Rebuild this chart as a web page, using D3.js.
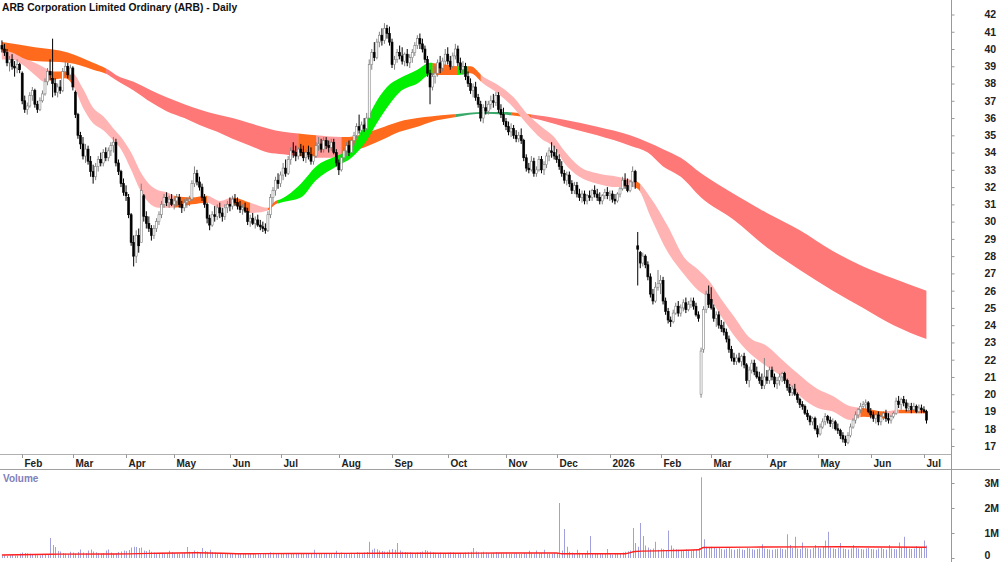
<!DOCTYPE html>
<html>
<head>
<meta charset="utf-8">
<script src="https://cdn.jsdelivr.net/npm/d3@7"></script>
<style>
  body { margin: 0; background: #fff; }
  svg { display: block; font-family: "Liberation Sans", Arial, sans-serif; }
</style>
</head>
<body>
<svg id="chart" width="1000" height="562"></svg>
<script>
// trading calendar (ASX), first and last session shown
const firstDay = "2025-01-21";
const lastDay = "2026-07-02";
const holidays = ["2025-01-27", "2025-04-18", "2025-04-21", "2025-04-25", "2025-06-09",
  "2025-12-25", "2025-12-26", "2026-01-01", "2026-01-26", "2026-04-03", "2026-04-06", "2026-06-08"];
const monthLabels = ["Feb", "Mar", "Apr", "May", "Jun", "Jul", "Aug", "Sep", "Oct", "Nov", "Dec",
  "2026", "Feb", "Mar", "Apr", "May", "Jun", "Jul"];

// daily candles [open, high, low, close]
const candles = [
  [40.2,40.5,39.8,40.0],[40.0,40.3,39.6,39.8],[39.8,40.0,39.0,39.2],[39.2,39.6,38.7,39.4],[39.4,39.7,38.8,39.0],
  [39.0,39.3,38.4,38.9],[38.9,39.4,38.6,39.1],[39.1,39.2,38.6,38.8],[38.6,38.7,36.8,37.0],[37.0,37.3,36.3,36.5],
  [36.5,36.9,36.2,36.7],[36.7,37.5,36.6,37.3],[37.3,37.8,37.0,37.6],[37.6,37.7,36.6,36.8],[36.8,37.0,36.3,36.5],
  [36.5,37.2,36.4,37.0],[37.0,37.6,36.9,37.4],[37.4,38.3,37.3,38.1],[38.1,38.9,37.9,38.7],[38.7,39.4,38.2,38.5],
  [38.3,40.6,37.2,38.0],[38.0,38.3,37.3,37.5],[37.5,38.0,37.2,37.8],[37.8,38.2,37.4,37.6],[37.6,38.9,37.5,38.7],
  [38.7,39.3,38.4,39.0],[39.0,39.2,38.3,38.5],[38.5,39.1,38.2,38.9],[38.9,39.0,37.6,37.8],[37.5,37.6,36.0,36.2],
  [36.2,36.3,34.8,35.0],[35.0,35.2,34.2,34.5],[34.5,34.9,33.6,33.8],[33.8,34.5,33.4,34.2],[34.2,34.4,33.3,33.5],
  [33.5,33.8,32.6,32.9],[32.9,33.3,32.2,32.6],[32.6,33.4,32.4,33.2],[33.2,33.8,32.9,33.6],[33.6,34.0,33.2,33.4],
  [33.4,34.2,33.2,34.0],[34.0,34.3,33.5,33.7],[33.7,34.3,33.5,34.1],[34.1,34.6,33.8,34.4],[34.4,34.9,34.0,34.6],
  [34.6,34.8,33.2,33.4],[33.4,33.6,32.7,32.9],[32.9,33.0,32.0,32.2],[32.2,32.5,31.5,31.7],[31.7,32.1,31.2,31.5],
  [31.4,31.6,30.2,30.4],[30.4,30.5,28.6,28.8],[28.8,29.2,27.4,28.0],[28.0,29.5,27.6,29.2],[29.2,29.6,28.2,28.6],
  [28.8,32.2,28.8,31.8],[31.5,31.6,30.0,30.3],[30.3,30.6,29.6,29.9],[29.9,30.3,29.4,29.6],[29.6,29.8,28.9,29.2],
  [29.2,29.8,29.0,29.6],[29.6,30.2,29.4,30.0],[30.0,30.6,29.8,30.4],[30.4,31.2,30.2,31.0],[31.0,31.6,30.8,31.4],
  [31.4,31.7,30.9,31.1],[31.1,31.5,30.8,31.3],[31.3,31.6,30.9,31.0],[31.0,31.4,30.7,31.2],[31.2,31.6,30.9,31.4],
  [31.4,31.6,30.8,31.0],[31.0,31.2,30.5,30.8],[30.8,31.3,30.6,31.1],[31.1,31.4,30.8,31.2],[31.2,31.5,30.9,31.3],
  [31.3,32.4,31.2,32.2],[32.2,33.2,32.0,32.8],[32.8,33.0,32.1,32.3],[32.3,32.6,31.8,32.0],[32.0,32.2,31.2,31.4],
  [31.4,31.6,30.8,31.0],[31.0,31.1,29.9,30.2],[30.2,30.4,29.5,29.8],[29.8,30.6,29.7,30.4],[30.4,30.9,30.0,30.3],
  [30.3,31.0,30.1,30.8],[30.8,31.1,30.2,30.5],[30.5,30.8,30.0,30.3],[30.3,31.0,30.1,30.8],[30.8,31.2,30.5,31.0],
  [31.0,31.4,30.6,30.9],[30.9,31.5,30.7,31.3],[31.3,31.6,30.9,31.1],[31.1,31.4,30.7,30.9],[30.9,31.2,30.5,30.7],
  [30.7,31.0,30.4,30.8],[30.8,31.1,30.5,30.6],[30.6,30.8,29.8,30.0],[30.0,30.4,29.7,30.2],[30.2,30.5,29.8,29.9],
  [29.9,30.3,29.6,30.1],[30.1,30.4,29.7,29.8],[29.8,30.1,29.5,29.7],[29.7,30.0,29.4,29.6],[29.6,29.9,29.3,29.5],
  [29.5,30.6,29.4,30.4],[30.4,31.6,30.2,31.4],[31.4,32.0,31.0,31.8],[31.8,32.6,31.5,32.4],[32.4,32.8,31.9,32.2],
  [32.2,32.9,32.0,32.7],[32.7,33.4,32.4,33.1],[33.1,33.6,32.6,32.8],[32.8,33.8,32.7,33.6],[33.6,34.3,33.3,34.1],
  [34.1,34.6,33.7,34.0],[34.0,34.4,33.5,33.8],[33.8,34.3,33.6,34.2],[34.2,34.5,33.8,34.0],[34.0,34.4,33.5,33.7],
  [33.7,34.2,33.4,34.0],[34.0,34.4,33.6,33.9],[33.9,34.3,33.3,33.5],[33.5,34.0,33.3,33.8],[33.8,34.6,33.7,34.4],
  [34.4,34.9,34.1,34.5],[34.5,34.8,34.0,34.2],[34.2,34.9,34.0,34.7],[34.7,34.9,34.2,34.4],[34.4,34.7,34.0,34.3],
  [34.3,34.8,34.1,34.6],[34.6,34.8,33.9,34.0],[34.0,34.2,33.2,33.4],[33.4,33.6,32.7,33.0],[33.0,33.9,32.9,33.7],
  [33.7,34.3,33.5,34.1],[34.1,34.6,33.8,34.4],[34.4,34.7,33.8,34.0],[34.0,34.8,33.9,34.7],[34.7,35.2,34.4,35.0],
  [35.0,35.7,34.8,35.5],[35.5,36.2,35.1,35.3],[35.3,35.8,35.0,35.6],[35.6,36.0,35.2,35.4],[35.4,36.3,35.3,36.0],
  [36.0,39.4,35.9,39.1],[39.1,40.0,38.8,39.8],[39.8,40.4,39.3,39.5],[39.5,40.6,39.4,40.4],[40.4,41.0,40.1,40.8],
  [40.8,41.2,40.2,40.5],[40.5,41.5,40.3,41.2],[41.2,41.4,40.6,40.9],[40.9,41.3,40.2,40.4],[40.4,40.6,38.9,39.1],
  [39.1,39.6,38.8,39.4],[39.4,40.0,39.2,39.8],[39.8,40.2,39.4,39.6],[39.6,40.1,39.1,39.3],[39.3,39.8,39.0,39.7],
  [39.7,40.0,39.0,39.2],[39.2,39.7,38.9,39.5],[39.5,40.0,39.2,39.8],[39.8,40.4,39.6,40.2],[40.2,40.8,40.0,40.6],
  [40.6,40.9,40.0,40.3],[40.3,40.6,39.8,40.0],[40.0,40.2,39.2,39.4],[39.4,39.6,38.4,38.6],[38.6,38.8,36.8,37.8],
  [37.8,38.6,37.6,38.4],[38.4,39.0,38.0,38.6],[38.6,39.4,38.4,39.2],[39.2,39.6,38.6,38.9],[38.9,39.5,38.7,39.3],
  [39.3,40.0,39.0,39.7],[39.7,40.1,39.1,39.3],[39.3,39.6,38.8,39.0],[39.0,39.8,38.9,39.6],[39.6,40.3,39.4,40.0],
  [40.0,40.2,39.0,39.2],[39.2,39.5,38.6,38.8],[38.8,39.3,38.5,39.0],[39.0,39.2,38.2,38.4],[38.4,38.7,37.8,38.0],
  [38.0,38.3,37.4,37.6],[37.6,38.0,37.2,37.8],[37.8,38.1,37.0,37.2],[37.2,37.4,36.6,36.8],[36.8,37.0,35.8,36.0],
  [36.0,36.8,35.7,36.6],[36.6,37.0,36.2,36.4],[36.4,37.0,36.2,36.8],[36.8,37.3,36.5,37.0],[37.0,37.4,36.6,36.9],
  [36.9,37.5,36.7,37.3],[37.3,37.5,36.3,36.5],[36.5,36.8,36.0,36.2],[36.2,36.6,35.6,35.8],[35.8,36.0,35.3,35.5],
  [35.5,35.8,35.0,35.2],[35.2,35.7,34.9,35.4],[35.4,35.6,34.8,35.0],[35.0,35.3,34.6,34.8],[34.8,35.2,34.6,35.0],
  [35.0,35.4,34.5,34.7],[34.7,34.8,33.5,33.7],[33.7,33.9,32.9,33.1],[33.1,33.4,32.8,33.0],[33.0,33.8,32.9,33.5],
  [33.5,33.7,32.6,32.8],[32.8,33.2,32.6,33.0],[33.0,33.8,32.9,33.6],[33.6,33.8,32.8,33.0],[33.0,33.5,32.7,33.3],
  [33.3,34.0,33.1,33.8],[33.8,34.3,33.5,34.1],[34.1,34.6,33.7,34.0],[34.0,34.4,33.6,33.8],[33.8,34.2,33.4,33.6],
  [33.6,33.9,33.0,33.2],[33.2,33.5,32.6,32.8],[32.8,33.0,32.2,32.4],[32.4,32.9,32.1,32.7],[32.7,32.9,32.0,32.2],
  [32.2,32.4,31.6,31.8],[31.8,32.3,31.6,32.1],[32.1,32.3,31.4,31.6],[31.6,31.9,31.2,31.4],[31.4,31.8,31.1,31.6],
  [31.6,31.8,31.0,31.2],[31.2,31.6,31.0,31.5],[31.5,31.8,31.2,31.4],[31.4,31.9,31.2,31.8],[31.8,32.1,31.4,31.6],
  [31.6,31.9,31.2,31.4],[31.4,31.7,31.0,31.2],[31.2,31.6,31.0,31.5],[31.5,31.9,31.3,31.7],[31.7,32.0,31.3,31.5],
  [31.5,31.8,31.2,31.6],[31.6,31.8,31.1,31.3],[31.3,31.6,31.0,31.2],[31.2,31.7,31.1,31.6],[31.6,32.0,31.4,31.9],
  [31.9,32.6,31.8,32.4],[32.4,32.8,31.9,32.1],[32.1,32.5,31.7,31.8],[31.8,32.4,31.7,32.3],[32.3,33.2,32.0,32.9],
  [32.9,33.0,31.9,32.3],[28.6,29.4,26.3,28.4],[28.2,28.3,27.3,27.6],[27.6,28.2,27.4,28.0],[28.0,28.1,27.3,27.5],
  [27.5,27.7,26.6,26.8],[26.8,27.0,25.6,25.8],[25.8,26.1,25.2,25.4],[25.4,26.5,25.3,26.2],[26.2,27.2,26.0,26.4],
  [26.4,26.9,25.8,26.6],[26.6,26.8,25.2,25.4],[25.4,25.6,24.6,24.8],[24.8,25.0,24.1,24.3],[24.3,24.5,23.9,24.2],
  [24.2,24.9,24.1,24.7],[24.7,25.3,24.6,25.1],[25.1,25.4,24.5,24.7],[24.7,25.2,24.5,25.0],[25.0,25.5,24.8,25.3],
  [25.3,25.6,24.7,24.9],[24.9,25.4,24.8,25.2],[25.2,25.6,25.0,25.4],[25.4,25.6,24.9,25.1],[25.1,25.3,24.5,24.6],
  [24.6,24.8,24.2,24.4],[20.0,22.7,19.8,22.5],[22.6,25.1,22.4,24.9],[24.9,26.0,24.7,25.8],[25.8,26.3,25.0,25.2],
  [25.5,26.2,24.9,25.0],[25.0,25.2,24.2,24.4],[24.4,24.8,23.9,24.6],[24.6,24.8,23.8,24.0],[24.0,24.3,23.6,23.8],
  [23.8,24.2,23.4,23.6],[23.6,23.8,23.0,23.2],[23.2,23.4,22.4,22.6],[22.6,22.8,21.9,22.1],[22.1,22.4,21.7,21.9],
  [21.9,22.3,21.7,22.1],[22.1,22.4,21.8,21.9],[21.9,22.3,21.6,22.2],[22.2,22.4,21.5,21.7],[21.7,21.8,20.6,20.8],
  [20.8,21.6,20.4,21.4],[21.4,22.0,21.2,21.8],[21.8,22.0,21.1,21.3],[21.3,21.6,20.9,21.0],[21.0,21.3,20.6,20.8],
  [20.8,21.2,20.3,20.5],[20.5,22.1,20.3,21.0],[21.0,21.4,20.6,20.8],[20.8,21.6,20.6,21.4],[21.4,21.6,20.8,21.0],
  [21.0,21.2,20.4,20.6],[20.6,21.0,20.3,20.8],[20.8,21.2,20.5,21.0],[21.0,21.3,20.7,21.2],[21.2,21.3,20.6,20.8],
  [20.8,20.9,20.2,20.4],[20.4,20.6,19.9,20.1],[20.1,20.5,19.9,20.3],[20.3,20.6,19.9,20.0],[20.0,20.1,19.5,19.7],
  [19.7,19.8,19.2,19.4],[19.4,19.6,19.1,19.3],[19.3,19.4,18.8,18.9],[18.9,19.1,18.5,18.7],[18.7,18.8,18.2,18.4],
  [18.4,18.7,18.2,18.6],[18.6,18.7,17.9,18.0],[18.0,18.2,17.5,17.7],[17.7,18.3,17.6,18.1],[18.1,18.6,18.0,18.4],
  [18.4,18.9,18.2,18.7],[18.7,18.8,18.3,18.5],[18.5,18.7,18.1,18.3],[18.3,18.6,18.0,18.4],[18.4,18.5,17.9,18.0],
  [18.0,18.3,17.7,17.9],[17.9,18.0,17.4,17.6],[17.6,17.8,17.2,17.4],[17.4,17.6,17.0,17.2],[17.2,17.8,17.1,17.6],
  [17.6,18.3,17.5,18.1],[18.1,18.6,18.0,18.5],[18.5,19.0,18.3,18.8],[18.8,19.2,18.6,19.1],[19.1,19.5,18.9,19.3],
  [19.3,19.6,19.0,19.4],[19.4,19.7,19.1,19.5],[19.5,19.6,18.9,19.0],[19.0,19.2,18.6,18.8],[18.8,19.0,18.4,18.6],
  [18.6,18.9,18.3,18.8],[18.8,19.0,18.2,18.4],[18.4,18.8,18.2,18.7],[18.7,19.0,18.5,18.9],[18.9,19.1,18.4,18.6],
  [18.6,18.9,18.3,18.5],[18.5,18.8,18.3,18.7],[18.7,19.0,18.6,18.9],[18.9,19.8,18.8,19.6],[19.6,19.9,19.2,19.4],
  [19.4,19.8,19.1,19.7],[19.7,19.9,19.3,19.5],[19.5,19.7,19.0,19.2],[19.2,19.5,19.0,19.3],[19.3,19.5,18.9,19.1],
  [19.1,19.5,19.0,19.3],[19.3,19.4,18.9,19.0],[19.0,19.4,18.9,19.2],[19.2,19.4,18.9,19.1],[19.1,19.3,18.9,19.0],
  [19.0,19.1,18.3,18.5]
];

// daily volume, thousands of shares
const volumes = [
  90,110,80,100,120,95,100,180,220,200, 190,170,140,120,110,100,130,120,150,800,
  520,440,280,260,200,180,160,250,220,180, 240,340,220,200,300,340,260,230,200,180,
  200,300,340,220,180,200,240,260,300,280, 320,420,450,440,400,420,300,280,330,250,
  220,200,190,210,180,200,290,230,200,180, 170,190,210,440,250,230,300,260,240,400,
  280,250,330,240,220,200,210,190,180,200, 190,170,180,200,170,160,180,190,170,160,
  150,170,160,180,170,200,230,210,190,180, 200,170,160,190,180,170,160,180,190,200,
  170,160,180,330,200,180,190,170,160,180, 170,190,290,200,220,180,170,190,210,200,
  230,210,200,220,240,650,330,380,350,300, 280,260,250,330,360,330,600,300,250,240,
  220,230,210,200,220,240,260,320,290,260, 230,210,200,220,190,200,210,230,220,200,
  190,210,200,220,230,250,400,260,230,220, 250,220,200,190,210,230,200,190,180,200,
  170,160,180,190,170,160,200,180,290,200, 180,300,190,200,330,180,170,160,190,200,
  2200,300,1160,450,250,220,200,330,210,190, 180,300,880,200,190,170,160,180,200,360,
  150,140,170,180,200,220,250,270,300,1200, 600,450,1400,880,500,420,350,380,650,330,
  380,350,320,1100,500,380,350,330,300,320, 340,310,290,330,350,400,3230,750,450,420,
  450,400,380,420,360,340,380,400,350,330, 360,380,340,320,400,380,350,330,360,380,
  550,380,360,340,330,350,370,390,360,340, 950,520,400,850,380,360,620,400,380,350,
  400,520,420,380,450,700,1050,420,380,360, 400,600,380,360,340,380,520,400,380,360,
  340,380,400,360,350,330,380,400,360,340, 520,380,360,350,620,400,850,420,380,360,
  380,480,400,420,700,500
];
// volume average line [day index, thousands]
const volAvg = [[0,120],[19,150],[44,160],[77,210],[97,170],[116,180],[150,190],[180,190],
  [197,200],[219,200],[221,170],[246,170],[250,260],[275,330],[277,420],[300,440],[330,450],[365,430]];

// short-term ribbon [day index, upper, lower]
const shortRibbon = [[0,39.9,39.4],[4,39.8,39.4],[8,39.5,39.1],[13,39.2,38.5],[17,38.9,38.1],[20,38.7,38.2],
  [25,38.7,38.3],[28,38.6,37.9],[32,37.7,36.6],[36,36.6,35.7],[40,36.1,35.3],[44,35.4,34.7],[47,34.9,34.2],
  [51,34.0,33.0],[55,32.8,31.7],[58,32.2,31.1],[62,31.8,30.8],[65,31.7,30.8],[68,31.5,30.8],[75,31.4,31.0],
  [81,31.5,31.1],[86,31.2,30.8],[91,31.4,31.0],[98,31.1,30.5],[105,30.8,30.65],[108,31.2,31.0],[110,31.3,31.1],
  [118,32.2,31.4],[124,33.2,32.4],[132,33.8,33.2],[138,34.3,33.7],[144,35.9,34.7],[148,37.0,35.7],
  [152,37.8,36.6],[157,38.3,37.5],[164,38.8,38.0],[169,39.2,38.5],[175,39.1,38.5],[180,39.0,38.5],
  [185,39.0,38.6],[190,38.4,38.0],[196,37.9,37.4],[202,37.2,36.6],[207,36.3,35.7],[213,35.5,34.8],
  [218,34.9,34.3],[222,34.1,33.4],[228,33.2,32.6],[235,32.8,32.2],[243,32.6,32.0],[249,32.4,32.0],
  [251,32.3,31.9],[256,31.4,30.3],[263,29.7,28.2],[269,28.0,27.0],[275,27.2,26.0],[279,26.6,25.6],
  [284,25.5,24.5],[289,24.5,23.4],[295,23.3,22.4],[302,22.8,21.6],[308,22.0,21.0],[315,21.1,19.9],
  [322,20.3,19.2],[328,19.9,19.0],[335,19.3,18.5],[340,19.2,18.7],[348,19.0,18.6],[354,19.1,18.9],[365,19.05,18.9]];
const shortColours = [[0,19,"pink"],[19,28,"orange"],[28,68,"pink"],[68,81,"orange"],[81,91,"pink"],
  [91,98,"orange"],[98,105,"pink"],[105,109,"orange"],[109,170,"green"],[170,180,"orange"],[180,184,"green"],
  [184,189,"orange"],[189,250,"pink"],[250,252,"orange"],[252,339,"pink"],[339,349,"orange"],[349,354,"pink"],
  [354,365,"orange"]];

// long-term ribbon [day index, upper, lower]
const longRibbon = [[0,40.4,39.5],[13,40.1,39.3],[26,39.8,39.2],[36,39.2,38.8],[42,38.8,38.5],[45,38.5,38.2],
  [52,38.1,37.6],[59,37.6,36.9],[65,37.2,36.4],[72,36.8,36.0],[78,36.5,35.6],[85,36.2,35.2],[91,36.0,34.8],
  [98,35.7,34.4],[105,35.4,34.0],[111,35.2,33.9],[117,35.1,33.8],[124,35.0,33.7],[134,34.9,33.7],
  [137,34.9,34.0],[143,35.1,34.3],[151,35.5,34.8],[157,35.8,35.2],[164,36.0,35.5],[170,36.1,35.8],
  [177,36.2,36.0],[190,36.35,36.25],[198,36.35,36.2],[209,36.2,36.0],[222,35.9,35.5],[235,35.5,35.0],
  [248,35.0,34.4],[255,34.6,34.0],[261,34.2,33.2],[268,33.7,32.6],[276,32.8,31.4],[289,31.6,30.1],
  [302,30.5,28.5],[315,29.5,27.2],[328,28.3,26.0],[340,27.4,25.0],[352,26.7,24.0],[365,26.0,23.2]];
const longColours = [[0,41,"orange"],[41,117,"red"],[117,124,"orange"],[124,134,"lightred"],
  [134,179,"orange"],[179,201,"darkgreen"],[201,209,"orange"],[209,365,"red"]];

const priceTicks = [17,18,19,20,21,22,23,24,25,26,27,28,29,30,31,32,33,34,35,36,37,38,39,40,41,42];
const volTicks = [0, 1000, 2000, 3000];
const volTickLabels = ["0", "1M", "2M", "3M"];

const colours = {
  pink: "#ffb3b3", orange: "#ff6a1c", green: "#00f000", red: "#ff7878",
  lightred: "#ff9a9a", darkgreen: "#3aaa6a"
};

// ---- build dates ----
const parse = d3.utcParse("%Y-%m-%d");
const fmt = d3.utcFormat("%Y-%m-%d");
const dates = d3.utcDay.range(parse(firstDay), d3.utcDay.offset(parse(lastDay), 1))
  .filter(d => d.getUTCDay() !== 0 && d.getUTCDay() !== 6 && !holidays.includes(fmt(d)));
console.log("sessions", dates.length, "candles", candles.length);

const svg = d3.select("#chart");
const axisX = 951.5;

const x = d3.scalePoint().domain(d3.range(dates.length)).range([1.94, 926.5]);
const y = d3.scaleLinear().domain([17, 42]).range([446, 14.5]);
const yv = d3.scaleLinear().domain([0, 3000]).range([558, 483]);

// ---- ribbons ----
const defs = svg.append("defs");
const plot = svg.append("g");

function ribbon(data, segs, name) {
  const area = d3.area()
    .x(d => x(d[0]))
    .y0(d => y(d[2]))
    .y1(d => y(d[1]))
    .curve(d3.curveMonotoneX);
  const path = area(data);
  segs.forEach((s, k) => {
    const id = `${name}-clip-${k}`;
    const x0 = s[0] === 0 ? 0 : x(s[0]);
    const x1 = x(s[1]);
    defs.append("clipPath").attr("id", id)
      .append("rect").attr("x", x0).attr("y", 0).attr("width", x1 - x0 + 0.3).attr("height", 460);
    plot.append("path")
      .attr("d", path)
      .attr("fill", colours[s[2]])
      .attr("clip-path", `url(#${id})`);
  });
}
ribbon(longRibbon, longColours, "long");
ribbon(shortRibbon, shortColours, "short");

// ---- candles ----
const bw = 2;
const up = d => d[3] >= d[0];
const cg = plot.append("g");
cg.selectAll("line.wick")
  .data(candles)
  .join("line")
  .attr("class", "wick")
  .attr("x1", (d, i) => x(i)).attr("x2", (d, i) => x(i))
  .attr("y1", d => y(d[1])).attr("y2", d => y(d[2]))
  .attr("stroke", d => up(d) ? "#808080" : "#000")
  .attr("stroke-width", 1);
cg.selectAll("rect.body")
  .data(candles)
  .join("rect")
  .attr("class", "body")
  .attr("x", (d, i) => x(i) - bw / 2)
  .attr("width", bw)
  .attr("y", d => y(Math.max(d[0], d[3])))
  .attr("height", d => Math.max(0.8, Math.abs(y(d[0]) - y(d[3]))))
  .attr("fill", d => up(d) ? "#fff" : "#000")
  .attr("stroke", d => up(d) ? "#808080" : "#000")
  .attr("stroke-width", 0.6);

// ---- frame ----
svg.append("line").attr("x1", 0).attr("x2", axisX).attr("y1", 454.5).attr("y2", 454.5)
  .attr("stroke", "#b0b0b0");
svg.append("line").attr("x1", 0).attr("x2", 1000).attr("y1", 469.5).attr("y2", 469.5)
  .attr("stroke", "#a0a0a0");

// month ticks
const monthStarts = dates.map((d, i) => i)
  .filter(i => i > 0 && dates[i].getUTCMonth() !== dates[i - 1].getUTCMonth());
const mg = svg.append("g").selectAll("g").data(monthStarts).join("g")
  .attr("transform", d => `translate(${Math.round(x(d)) + 0.5},0)`);
mg.append("line").attr("y1", 454.5).attr("y2", 458).attr("stroke", "#999");
mg.append("text").attr("x", 2).attr("y", 466.5)
  .attr("font-size", 10).attr("font-weight", "bold").attr("fill", "#222")
  .text((d, k) => monthLabels[k]);

// price axis
const ay = svg.append("g").attr("transform", `translate(${axisX},0)`)
  .call(d3.axisRight(y).tickValues(priceTicks).tickSize(3).tickPadding(30).tickFormat(d3.format("d")));
ay.select(".domain").remove();
ay.selectAll("line").attr("stroke", "#999");
ay.selectAll("text").attr("font-size", 10.5).attr("font-weight", "bold").attr("fill", "#222")
  .attr("font-family", "Liberation Sans, Arial, sans-serif");

svg.append("line").attr("x1", axisX).attr("x2", axisX).attr("y1", 0).attr("y2", 562)
  .attr("stroke", "#999");

// ---- volume panel ----
svg.append("text").attr("x", 3).attr("y", 482).text("Volume")
  .attr("font-size", 10).attr("font-weight", "bold").attr("fill", "#8080b8");

svg.append("g").selectAll("line").data(volumes).join("line")
  .attr("x1", (d, i) => Math.round(x(i)) + 0.5).attr("x2", (d, i) => Math.round(x(i)) + 0.5)
  .attr("y1", yv(0)).attr("y2", d => yv(d))
  .attr("stroke", "#a0a0dc").attr("stroke-width", 1);

svg.append("path")
  .attr("d", d3.line().x(d => x(d[0])).y(d => yv(d[1])).curve(d3.curveMonotoneX)(volAvg))
  .attr("fill", "none").attr("stroke", "#ff2020").attr("stroke-width", 1.3);

const av = svg.append("g").attr("transform", `translate(${axisX},0)`)
  .call(d3.axisRight(yv).tickValues(volTicks).tickSize(3).tickPadding(30)
    .tickFormat((d, k) => volTickLabels[k]));
av.select(".domain").remove();
av.selectAll("line").attr("stroke", "#999");
av.selectAll("text").attr("font-size", 10.5).attr("font-weight", "bold").attr("fill", "#222")
  .attr("font-family", "Liberation Sans, Arial, sans-serif")
  .attr("dy", d => d === 0 ? "0" : "0.32em");

// ---- title ----
svg.append("text").attr("x", 2).attr("y", 11)
  .text("ARB Corporation Limited Ordinary (ARB) - Daily")
  .attr("font-size", 10.3).attr("font-weight", "bold").attr("fill", "#111");
</script>
</body>
</html>
